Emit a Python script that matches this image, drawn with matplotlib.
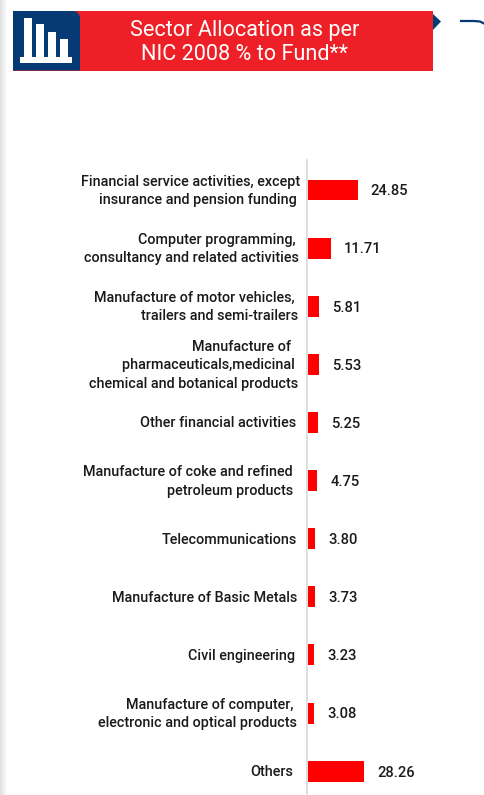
import matplotlib
matplotlib.use('Agg')
import matplotlib.pyplot as plt
from matplotlib.patches import Rectangle, Polygon
import numpy as np

# Sector allocation, % to fund
sectors = [
    'Financial service activities, except\ninsurance and pension funding ',
    'Computer programming, \nconsultancy and related activities',
    'Manufacture of motor vehicles, \ntrailers and semi-trailers',
    'Manufacture of  \npharmaceuticals,medicinal \nchemical and botanical products',
    'Other financial activities',
    'Manufacture of coke and refined\npetroleum products',
    'Telecommunications',
    'Manufacture of Basic Metals',
    'Civil engineering',
    'Manufacture of computer, \nelectronic and optical products',
    'Others',
]
weights = [24.85, 11.71, 5.81, 5.53, 5.25, 4.75, 3.80, 3.73, 3.23, 3.08, 28.26]

W, H = 484, 795
AXIS_X = 307
NAVY = '#063a75'
# right edge of each label in px, they don't line up in the original
label_right = [300, 299, 298, 298, 296, 293, 297, 297, 295, 297, 293]

plt.rcParams['font.family'] = ['Roboto', 'DejaVu Sans']

fig = plt.figure(figsize=(W / 100, H / 100), dpi=100)

# header and page decoration, in pixel coordinates
bg = fig.add_axes([0, 0, 1, 1])
strip = np.linspace(0.88, 1, 8).reshape(1, -1)
bg.imshow(strip, extent=(0, 8, H, 0), cmap='gray', vmin=0, vmax=1, aspect='auto')
bg.set_xlim(0, W)
bg.set_ylim(H, 0)
bg.axis('off')

bg.add_patch(Polygon([(433, 14), (441, 21.5), (433, 30)], color=NAVY, lw=0))
bg.add_patch(Rectangle((13, 11), 420, 59.5, color='#ee1f26', lw=0))
# navy block, only the top right corner is rounded
t = np.linspace(0, np.pi / 2, 8)
corner = [(73 + 7 * np.sin(a), 18 - 7 * np.cos(a)) for a in t]
bg.add_patch(Polygon([(13, 11)] + corner + [(80, 70.5), (13, 70.5)], color=NAVY, lw=0))
for x0, top in [(24, 18), (36, 24), (48, 32), (60, 39)]:
    bg.add_patch(Rectangle((x0, top), 8, 62 - top, color='white', lw=0))
bg.add_patch(Rectangle((20, 57), 52, 6, color='white', lw=0))
bg.plot([461, 474, 480, 484], [21, 21, 21.5, 23.5], color=NAVY, lw=1.6)

bg.text(244.5, 30.5, 'Sector Allocation as per', color='white', fontsize=15.6,
        ha='center', va='center')
bg.text(244.5, 55, 'NIC 2008 % to Fund**', color='white', fontsize=15.6,
        ha='center', va='center')

# the bars
ax = fig.add_axes([AXIS_X / W, 0, (W - AXIS_X) / W, (H - 160) / H])
ax.patch.set_alpha(0)
ax.barh(range(len(weights)), weights, height=0.36, color='#ff0000')
ax.set_xlim(-0.4, (W - AXIS_X) / 2.0 - 0.4)
ax.set_ylim(10.41, -0.516)
ax.set_xticks([])
ax.set_yticks([])
for s in ['top', 'right', 'bottom']:
    ax.spines[s].set_visible(False)
ax.spines['left'].set_color('#d9d9d9')
ax.spines['left'].set_linewidth(1.2)

for i, (name, val) in enumerate(zip(sectors, weights)):
    ax.annotate(f'{val:.2f}', (val, i), xytext=(9.3, -1), textcoords='offset points',
                va='center', ha='left', fontsize=10.6, fontweight='medium', color='#1a1a1a')
    ax.annotate(name, (-0.4, i), xytext=((label_right[i] - AXIS_X) * 0.72, -0.7),
                textcoords='offset points', va='center', ha='right',
                multialignment='right', fontsize=10.35, fontweight='medium',
                color='#1a1a1a', linespacing=1.4)

fig.savefig('out.png', dpi=100)
